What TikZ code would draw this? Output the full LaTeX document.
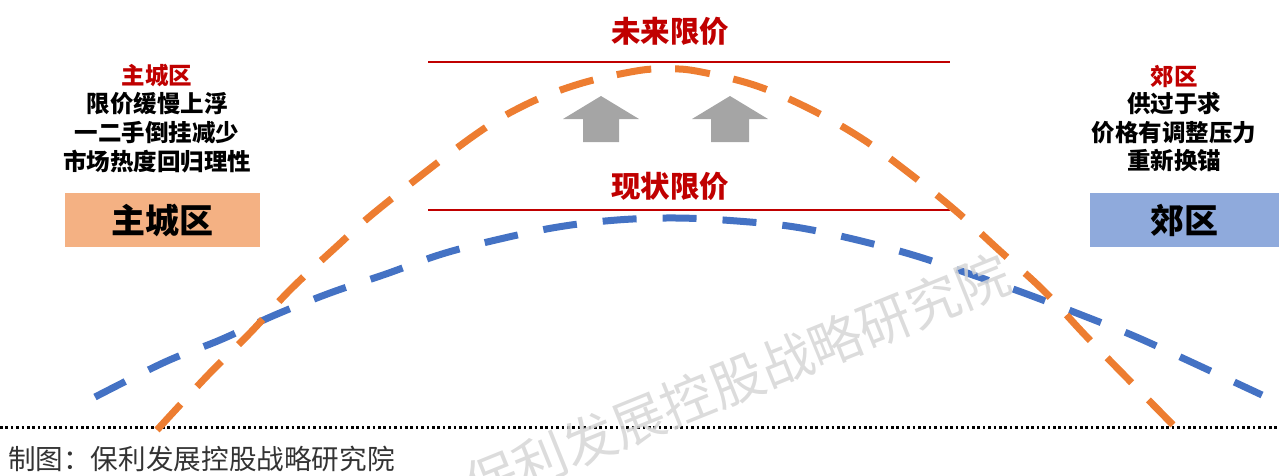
\documentclass[tikz,border=0pt]{standalone}
\usepackage{fontspec}
\newfontfamily\cjk{Noto Sans CJK SC}
\definecolor{dred}{HTML}{C00000}
\definecolor{orng}{HTML}{ED7D31}
\definecolor{blu}{HTML}{4472C4}
\definecolor{arrowgrey}{HTML}{A5A5A5}
\definecolor{boxorange}{HTML}{F4B183}
\definecolor{boxblue}{HTML}{8FAADC}
\definecolor{wmark}{HTML}{D6D6D6}
\definecolor{captiongrey}{HTML}{333333}
\tikzset{
  title/.style={font=\cjk\bfseries\fontsize{29.5}{32}\selectfont, text=dred, inner sep=0pt},
  redlabel/.style={font=\cjk\bfseries\fontsize{23.5}{26}\selectfont, text=dred, inner sep=0pt},
  bodyline/.style={font=\cjk\bfseries\fontsize{23.5}{26}\selectfont, text=black, inner sep=0pt},
  zonebox/.style={draw=none, minimum height=54pt, inner sep=0pt, font=\cjk\bfseries\fontsize{34}{36}\selectfont},
  limitline/.style={draw=dred, line width=2.8pt},
  orangecurve/.style={draw=orng, line width=7pt, dash pattern=on 35pt off 24pt, line cap=butt},
  bluecurve/.style={draw=blu, line width=7pt, dash pattern=on 34pt off 26pt, line cap=butt},
  uparrow/.style={fill=arrowgrey, draw=none},
  baseline/.style={draw=black, line width=3pt, dash pattern=on 2.6pt off 2.8pt},
}
\begin{document}
\begin{tikzpicture}[x=1pt,y=-1pt]
\useasboundingbox (0,0) rectangle (1279,475);

% limit lines
\coordinate (futL) at (428,62); \coordinate (futR) at (950,62);
\coordinate (curL) at (428,210); \coordinate (curR) at (950,210);
\draw[limitline] (futL) -- (futR);
\draw[limitline] (curL) -- (curR);
\node[title] (futT) at (670,31) {未来限价};
\node[title] (curT) at (670,186) {现状限价};

% grey up arrows
\draw[uparrow] (601,96) -- (639,119) -- (619,119) -- (619,142) -- (583,142) -- (583,119) -- (563,119) -- cycle;
\draw[uparrow] (730,96) -- (768,119) -- (749,119) -- (749,142) -- (711,142) -- (711,119) -- (692,119) -- cycle;

% dotted base line
\coordinate (bL) at (0,427); \coordinate (bR) at (1279,427);
\draw[baseline] (bL) -- (bR);

% blue curve (current)
\draw[bluecurve] plot[smooth, tension=0.6] coordinates {
 (95,397) (165,362) (220,340) (275,315) (330,293) (386,274) (442,254) (500,239) (558,227) (617,220) (677,218)
 (737,221) (795,227) (853,239) (913,255) (967,273) (1024,293) (1079,314) (1134,336) (1189,361) (1262,395)};

% orange curve (future)
\draw[orangecurve] plot[smooth, tension=0.6] coordinates {
 (157,430) (208,375) (250,333) (290,290) (335,248) (380,208) (472,137) (525,105) (579,84) (636,71) (666,69)
 (696,71) (754,85) (808,108) (861,138) (909,173) (956,211) (1000,251) (1043,290) (1085,335) (1126,377) (1175,427)};

% left block
\node[redlabel] (lT) at (157,76) {主城区};
\node[bodyline] (l1) at (157,104) {限价缓慢上浮};
\node[bodyline] (l2) at (157,133) {一二手倒挂减少};
\node[bodyline] (l3) at (157,162) {市场热度回归理性};
\node[zonebox, fill=boxorange, minimum width=195pt] (lbox) at (162.5,220) {主城区};

% right block
\node[redlabel] (rT) at (1174,76) {郊区};
\node[bodyline] (r1) at (1174,104) {供过于求};
\node[bodyline] (r2) at (1174,133) {价格有调整压力};
\node[bodyline] (r3) at (1174,161) {重新换锚};
\node[zonebox, fill=boxblue, minimum width=189pt] (rbox) at (1184.5,220) {郊区};

% caption
\node[anchor=west, inner sep=0pt, font=\cjk\fontsize{27.6}{30}\selectfont, text=captiongrey] (cap) at (8,459) {制图：保利发展控股战略研究院};

% watermark
\node[rotate=22, inner sep=0pt, font=\cjk\fontsize{53}{56}\selectfont, text=wmark, opacity=0.85] (wm) at (737,380) {保利发展控股战略研究院};
\end{tikzpicture}
\end{document}
